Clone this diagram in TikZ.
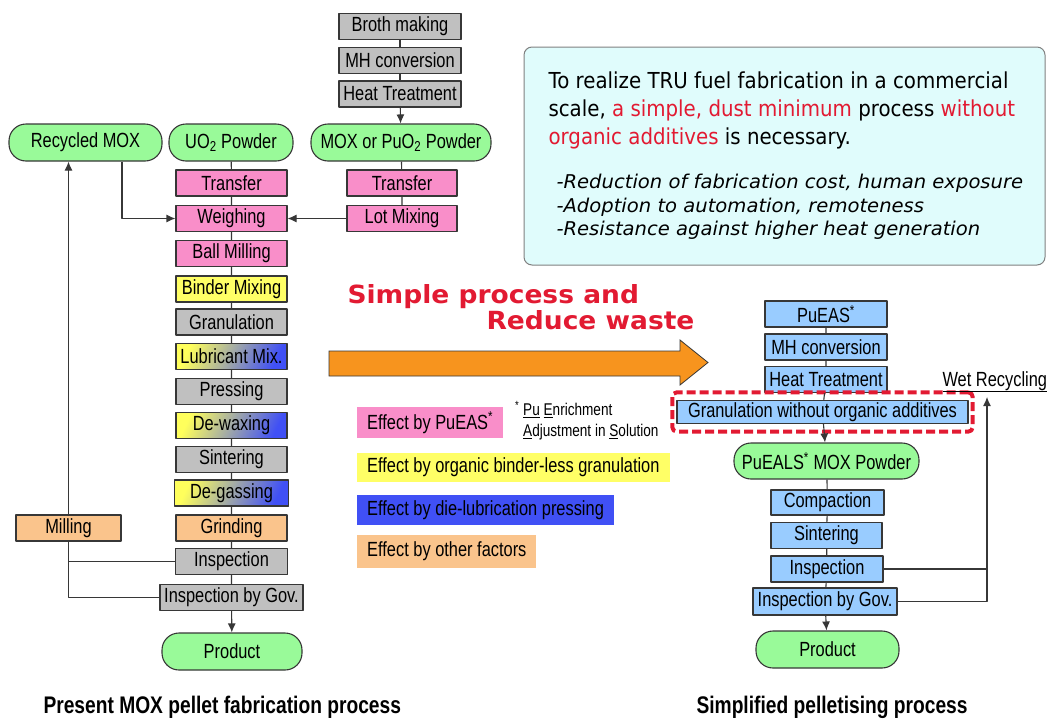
\documentclass[tikz,border=0pt]{standalone}
\usepackage{fontspec}
\setmainfont{Liberation Sans}
\newfontfamily\boxfont[FakeStretch=0.8]{Liberation Sans}
\newfontfamily\notefont[FakeStretch=0.9]{DejaVu Sans}
\newfontfamily\pointfont[FakeStretch=1.03]{DejaVu Sans}
\newfontfamily\slogfont[FakeStretch=1.06]{DejaVu Sans}
\usetikzlibrary{arrows.meta,fit}
\definecolor{boxline}{RGB}{55,55,55}
\definecolor{pinkfill}{RGB}{249,142,201}
\definecolor{yellowfill}{RGB}{255,255,102}
\definecolor{grayfill}{RGB}{192,192,192}
\definecolor{peachfill}{RGB}{250,196,140}
\definecolor{greenfill}{RGB}{153,250,153}
\definecolor{bluefill}{RGB}{153,204,255}
\definecolor{deepblue}{RGB}{64,80,245}
\definecolor{cyanfill}{RGB}{224,252,252}
\definecolor{arroworange}{RGB}{247,148,30}
\definecolor{alertred}{RGB}{226,26,50}
\begin{document}
\begin{tikzpicture}[x=1pt,y=-1pt,>={Latex[length=9pt,width=8pt]},line join=bevel,
  proc/.style={draw=boxline,line width=1.1pt,minimum height=26pt,inner sep=1pt,
    font=\boxfont\fontsize{20.5}{22}\selectfont},
  graybox/.style={proc,fill=grayfill},
  pinkbox/.style={proc,fill=pinkfill},
  yellowbox/.style={proc,fill=yellowfill},
  peachbox/.style={proc,fill=peachfill},
  bluebox/.style={proc,fill=bluefill},
  gradbox/.style={proc,left color=yellowfill!90!yellow,right color=deepblue,shading angle=65},
  term/.style={proc,fill=greenfill,rounded corners=17pt,minimum height=37pt},
  legend/.style={inner xsep=10pt,inner ysep=0pt,anchor=west,
    font=\boxfont\fontsize{20.5}{22}\selectfont},
  link/.style={draw=boxline,line width=1.1pt},
  caption/.style={anchor=base west,font=\boxfont\bfseries\fontsize{24}{26}\selectfont},
  noteline/.style={anchor=base west,font=\notefont\fontsize{22}{28}\selectfont},
  pointline/.style={anchor=base west,font=\pointfont\itshape\fontsize{19}{23}\selectfont},
  slogan/.style={anchor=base west,text=alertred,font=\slogfont\bfseries\fontsize{25}{28}\selectfont},
]
\useasboundingbox (0,0) rectangle (1049,718);
%%
  % Node: Broth, MH, Heat
  \node[graybox,minimum width=122pt] (broth) at (400,26.5) {Broth making};
  \node[graybox,minimum width=122pt] (mhA) at (400,60.5) {MH conversion};
  \node[graybox,minimum width=122pt] (heatA) at (400,94) {Heat Treatment};
  % Node: Powders
  \node[term,minimum width=153pt] (recmox) at (85.5,142.5) {Recycled MOX};
  \node[term,minimum width=124pt] (uo2) at (231,142.5) {UO\textsubscript{2} Powder};
  \node[term,minimum width=180pt] (moxpow) at (401,142.5) {MOX or PuO\textsubscript{2} Powder};
  % Node: present process chain
  \node[pinkbox,minimum width=111pt] (trA) at (231.5,183) {Transfer};
  \node[pinkbox,minimum width=110pt] (trB) at (402,183) {Transfer};
  \node[pinkbox,minimum width=111pt] (weigh) at (231.5,218.5) {Weighing};
  \node[pinkbox,minimum width=110pt] (lotmix) at (402,218.5) {Lot Mixing};
  \node[pinkbox,minimum width=111pt] (ball) at (231.5,253.5) {Ball Milling};
  \node[yellowbox,minimum width=111pt] (binder) at (231.5,289) {Binder Mixing};
  \node[graybox,minimum width=111pt] (granA) at (231.5,322) {Granulation};
  \node[gradbox,minimum width=111pt] (lubric) at (231.5,356.5) {Lubricant Mix.};
  \node[graybox,minimum width=111pt] (press) at (231.5,391.5) {Pressing};
  \node[gradbox,minimum width=111pt] (dewax) at (231.5,425.5) {De-waxing};
  \node[graybox,minimum width=111pt] (sinterA) at (231.5,459.5) {Sintering};
  \node[gradbox,minimum width=114pt] (degas) at (231.5,493) {De-gassing};
  \node[peachbox,minimum width=111pt] (grind) at (231.5,528) {Grinding};
  \node[peachbox,minimum width=105pt] (milling) at (68.5,528) {Milling};
  \node[graybox,minimum width=112pt] (inspA) at (231.5,561.5) {Inspection};
  \node[graybox,minimum width=143pt] (govA) at (231.5,597.5) {Inspection by Gov.};
  \node[term,minimum width=140pt] (prodA) at (232,651.5) {Product};
  % Node: simplified process chain
  \node[bluebox,minimum width=122pt] (pueas) at (826,314) {PuEAS\textsuperscript{*}};
  \node[bluebox,minimum width=122pt] (mhB) at (826,347) {MH conversion};
  \node[bluebox,minimum width=122pt] (heatB) at (826,379.5) {Heat Treatment};
  \node[bluebox,minimum width=291pt,minimum height=23pt] (granB) at (822.5,412) {Granulation without organic additives};
  \node[term,minimum width=185pt,minimum height=36pt] (pueals) at (826.5,461) {PuEALS\textsuperscript{*} MOX Powder};
  \node[bluebox,minimum width=113pt,minimum height=25pt] (compact) at (827.5,502.5) {Compaction};
  \node[bluebox,minimum width=111pt] (sinterB) at (826.5,535.5) {Sintering};
  \node[bluebox,minimum width=112pt] (inspB) at (827,569) {Inspection};
  \node[bluebox,minimum width=144pt,minimum height=27pt] (govB) at (825,601.5) {Inspection by Gov.};
  \node[term,minimum width=143pt] (prodB) at (827.5,649.5) {Product};
  \node[draw=alertred,line width=4pt,dash pattern=on 9pt off 4pt,rounded corners=4pt,
    inner xsep=4pt,inner ysep=7.5pt,fit=(granB)] (focus) {};
  \node[anchor=base west,font=\boxfont\fontsize{20.5}{22}\selectfont] (wet) at (939,386) {\underline{Wet Recycling}};
  \coordinate (wetin) at (987,397);
  % Node: legend
  \node[legend,fill=pinkfill,minimum height=31pt] (keypink) at (357,422.5) {Effect by PuEAS\textsuperscript{*}};
  \node[legend,fill=yellowfill,minimum height=29pt] (keyyellow) at (357,467.5) {Effect by organic binder-less granulation};
  \node[legend,fill=deepblue,minimum height=30pt] (keyblue) at (357,510) {Effect by die-lubrication pressing};
  \node[legend,fill=peachfill,minimum height=33pt] (keypeach) at (357,551.5) {Effect by other factors};
  \node[anchor=north west,align=left,inner sep=0pt,font=\boxfont\fontsize{17}{21}\selectfont] (footnote) at (523,401)
    {\llap{\textsuperscript{*}\ }\underline{Pu} \underline{E}nrichment\\\underline{A}djustment in \underline{S}olution};
  % Node: aim box
  \draw[draw=gray,fill=cyanfill,line width=1pt,rounded corners=8pt] (524,47) rectangle (1045,265);
  \node[noteline] (aim1) at (545,88) {To realize TRU fuel fabrication in a commercial};
  \node[noteline] (aim2) at (545,116) {scale, \textcolor{alertred}{a simple, dust minimum} process \textcolor{alertred}{without}};
  \node[noteline] (aim3) at (545,144) {\textcolor{alertred}{organic additives} is necessary.};
  \node[pointline] (pt1) at (553,188) {-Reduction of fabrication cost, human exposure};
  \node[pointline] (pt2) at (553,212) {-Adoption to automation, remoteness};
  \node[pointline] (pt3) at (553,235) {-Resistance against higher heat generation};
  % Node: slogan and big arrow
  \node[slogan] (slog1) at (344,303) {Simple process and};
  \node[slogan] (slog2) at (483,329) {Reduce waste};
  \draw[draw=boxline,fill=arroworange,line width=0.8pt,line join=miter]
    (329,351) -- (680,351) -- (680,340) -- (708,362.5) -- (680,385) -- (680,376) -- (329,376) -- cycle;
  % Node: captions
  \node[caption] (capA) at (40,713) {Present MOX pellet fabrication process};
  \node[caption] (capB) at (693,713) {Simplified pelletising process};
%%
  % Edge: Broth -> MOX powder
  \draw[link] (broth) -- (mhA) -- (heatA);
  \draw[link,->] (heatA) -- (moxpow);
  \draw[link] (moxpow) -- (trB) -- (lotmix);
  % Edge: Lot Mixing -> Weighing
  \draw[link,->] (lotmix) -- (weigh);
  % Edge: Recycled MOX -> Weighing
  \draw[link,->] ([xshift=36.5pt]recmox.south) |- (weigh.west);
  % Edge: UO2 -> Inspection by Gov.
  \draw[link] (uo2) -- (trA) -- (weigh) -- (ball) -- (binder) -- (granA) -- (lubric) -- (press)
    -- (dewax) -- (sinterA) -- (degas) -- (grind) -- (inspA) -- (govA);
  \draw[link,->] (govA) -- (prodA);
  % Edge: rejects -> Milling -> Recycled MOX
  \draw[link] (govA.west) -| (milling.south);
  \draw[link] (inspA.west) -- (inspA.west -| milling.south);
  \draw[link,->] (milling.north) -- (milling.north |- recmox.south);
  % Edge: PuEAS -> Inspection by Gov.
  \draw[link] (pueas) -- (mhB) -- (heatB) -- (granB);
  \draw[link,->] (granB) -- (pueals);
  \draw[link] (pueals) -- (compact) -- (sinterB) -- (inspB) -- (govB);
  \draw[link,->] (govB) -- (prodB);
  % Edge: rejects -> Wet Recycling
  \draw[link] (inspB.east) -- (inspB.east -| wetin);
  \draw[link,->] (govB.east) -| (wetin);
%
\end{tikzpicture}
\end{document}
